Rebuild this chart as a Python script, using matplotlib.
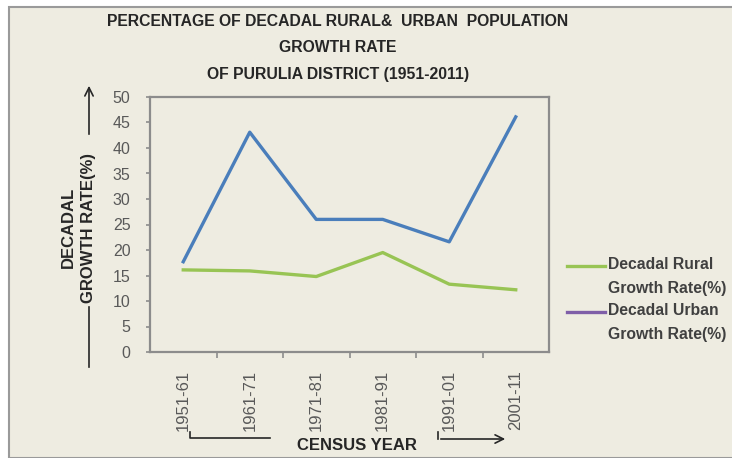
import matplotlib
matplotlib.use("Agg")
import numpy as np
from matplotlib import pyplot as plt
from matplotlib.lines import Line2D
from matplotlib.patches import Rectangle, FancyArrowPatch

# census decades and decadal growth rates (%) for Purulia district
decades = ['1951-61', '1961-71', '1971-81', '1981-91', '1991-01', '2001-11']
rural_growth = [16.1, 15.9, 14.8, 19.5, 13.3, 12.2]
urban_growth = [17.7, 43.1, 26.0, 26.0, 21.6, 46.1]

legend_labels = ['Decadal Rural\nGrowth Rate(%)', 'Decadal Urban\nGrowth Rate(%)']

bg = '#EEECE1'
green = '#98C454'
blue = '#4A7EBB'
purple = '#7F5FA8'
dark = '#262626'

plt.rcParams['font.family'] = ['Liberation Sans', 'DejaVu Sans']

W, H = 732, 458
fig = plt.figure(figsize=(W / 100, H / 100), dpi=100, facecolor='white')

def fx(px):
    return px / W

def fy(py):
    return 1 - py / H

# chart background with border at top/left
fig.add_artist(Rectangle((fx(9), 0), 1, fy(7), transform=fig.transFigure,
                         facecolor=bg, edgecolor='#9a9a9a', lw=1.5, zorder=-5))

ax = fig.add_axes([fx(150), fy(352), fx(549) - fx(150), fy(97) - fy(352)])
ax.set_facecolor(bg)

x = np.arange(len(decades))
ax.plot(x, urban_growth, color=blue, lw=2.4)
ax.plot(x, rural_growth, color=green, lw=2.4)

ax.set_xlim(-0.5, len(decades) - 0.5)
ax.set_ylim(0, 50)
ax.set_yticks(np.arange(0, 51, 5))
ax.set_xticks(x)
ax.set_xticklabels(decades, rotation=90)
ax.set_xticks(np.arange(0.5, len(decades) - 0.5, 1), minor=True)

for s in ax.spines.values():
    s.set_color('#8c8c8c')
    s.set_linewidth(1.6)

ax.tick_params(axis='x', which='major', length=0, pad=13, labelsize=12, labelcolor='#595959')
ax.tick_params(axis='x', which='minor', length=4, color='#8c8c8c', width=1.2)
ax.tick_params(axis='y', length=3, color='#8c8c8c', width=1.2, pad=11, labelsize=11.5,
               labelcolor='#595959')

# title
title_lines = ['PERCENTAGE OF DECADAL RURAL&  URBAN  POPULATION', 'GROWTH RATE',
               'OF PURULIA DISTRICT (1951-2011)']
for line, py in zip(title_lines, [22, 47, 75]):
    fig.text(fx(338), fy(py), line, ha='center', va='center', fontsize=11.3,
             fontweight='bold', color=dark)

# y axis label with arrow
fig.text(fx(68), fy(227), 'DECADAL', rotation=90, ha='center', va='center',
         fontsize=12, fontweight='bold', color=dark)
fig.text(fx(89), fy(228), 'GROWTH RATE(%)', rotation=90, ha='center', va='center',
         fontsize=12, fontweight='bold', color=dark)
fig.add_artist(Line2D([fx(89), fx(89)], [fy(307), fy(367)], transform=fig.transFigure,
                      color=dark, lw=1.2))
fig.add_artist(FancyArrowPatch(
    (fx(89), fy(137)), (fx(89), fy(83)), transform=fig.transFigure,
    arrowstyle='->,head_width=3,head_length=6', color=dark, lw=1.2))

# x axis label with arrow
fig.text(fx(357), fy(445), 'CENSUS YEAR', ha='center', va='center', fontsize=12,
         fontweight='bold', color=dark)
fig.add_artist(Line2D([fx(190), fx(190), fx(270)], [fy(432), fy(438), fy(438)],
                      transform=fig.transFigure, color=dark, lw=1.2))
fig.add_artist(Line2D([fx(438), fx(438)], [fy(432), fy(439)],
                      transform=fig.transFigure, color=dark, lw=1.2))
fig.add_artist(FancyArrowPatch(
    (fx(438), fy(439)), (fx(508), fy(439)), transform=fig.transFigure,
    arrowstyle='->,head_width=3,head_length=6', color=dark, lw=1.2))

# legend (colours as shown in the original)
for lab, col, py in zip(legend_labels, [green, purple], [266, 312]):
    fig.add_artist(Line2D([fx(567), fx(605)], [fy(py), fy(py)], transform=fig.transFigure,
                          color=col, lw=2.4))
    fig.text(fx(608), fy(py - 9), lab, ha='left', va='top', fontsize=11.3,
             fontweight='bold', color='#404040', linespacing=1.75)

fig.savefig('out.png', dpi=100, facecolor='white')
